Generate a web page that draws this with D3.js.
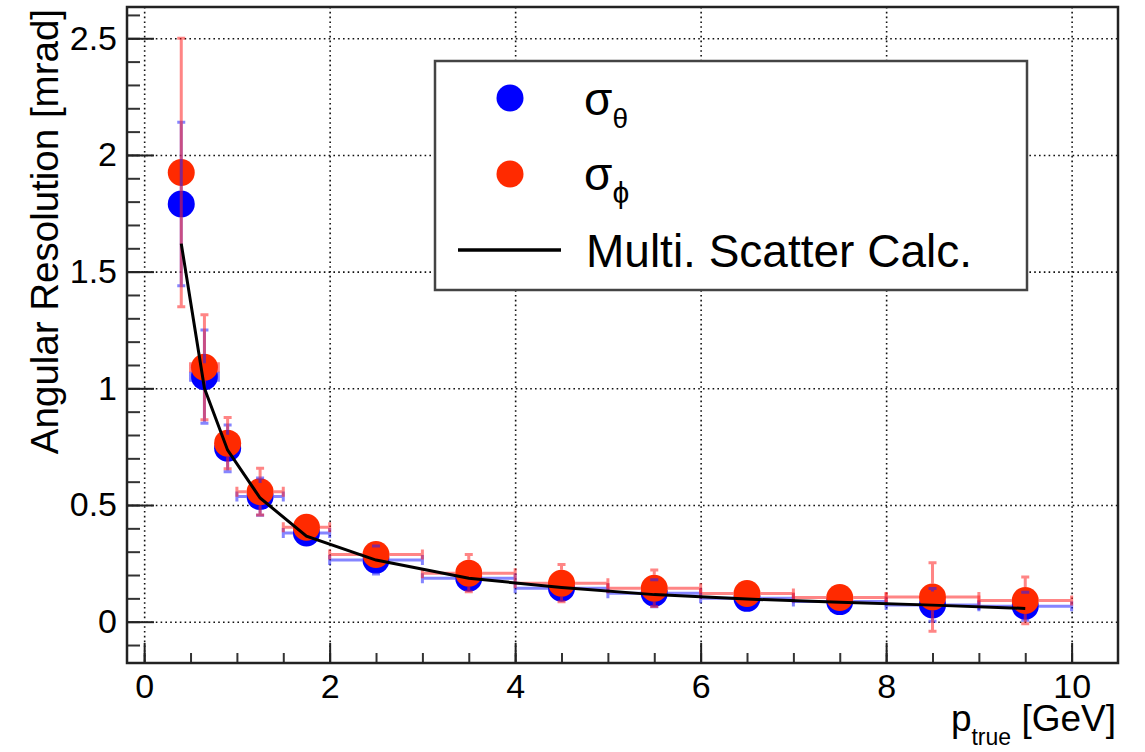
<!DOCTYPE html>
<html>
<head>
<meta charset="utf-8">
<script src="https://cdn.jsdelivr.net/npm/d3@7"></script>
<style>
  html, body { margin: 0; padding: 0; background: #fff; }
  svg { display: block; font-family: "Liberation Sans", Arial, Helvetica, sans-serif; }
</style>
</head>
<body>
<svg id="chart" width="1145" height="752"></svg>
<script>
// ---- data ----
const pCenters     = [0.4, 0.65, 0.9, 1.25, 1.75, 2.5, 3.5, 4.5, 5.5, 6.5, 7.5, 8.5, 9.5];
const binLow       = [0.3, 0.5, 0.8, 1.0, 1.5, 2, 3, 4, 5, 6, 7, 8, 9];
const binHigh      = [0.5, 0.8, 1.0, 1.5, 2.0, 3, 4, 5, 6, 7, 8, 9, 10];
const sigmaTheta    = [1.79, 1.05, 0.743, 0.536, 0.38, 0.264, 0.186, 0.143, 0.122, 0.10, 0.086, 0.072, 0.066];
const sigmaThetaErr = [0.35, 0.20, 0.10, 0.08, 0.04, 0.06, 0.05, 0.05, 0.058, 0.05, 0.04, 0.07, 0.06];
const sigmaPhi      = [1.925, 1.09, 0.765, 0.557, 0.405, 0.288, 0.208, 0.165, 0.143, 0.121, 0.104, 0.106, 0.091];
const sigmaPhiErr   = [0.575, 0.225, 0.11, 0.10, 0.04, 0.05, 0.08, 0.08, 0.078, 0.05, 0.04, 0.147, 0.10];
const msCalc        = [1.62, 1.0, 0.735, 0.53, 0.367, 0.264, 0.186, 0.147, 0.116, 0.097, 0.083, 0.071, 0.057];
const xTickValues = [0, 2, 4, 6, 8, 10];
const xTickLabels = ["0", "2", "4", "6", "8", "10"];
const yTickValues = [0, 0.5, 1, 1.5, 2, 2.5];
const yTickLabels = ["0", "0.5", "1", "1.5", "2", "2.5"];
const xMinorTicks = d3.range(0, 10.01, 0.5);
const yMinorTicks = d3.range(-0.1, 2.61, 0.1).map(v => +v.toFixed(2));
const legendLabels = ["Multi. Scatter Calc."];

// ---- layout ----
const svg = d3.select("#chart");
const L = 127, R = 1118, T = 7, B = 663;
const x = d3.scaleLinear().domain([-0.185, 10.5]).range([L, R]);
const y = d3.scaleLinear().domain([-0.177, 2.634]).range([B, T]);

const blue = "#0000ff", red = "#ff2a00";
const MR = 13.5; // marker radius

// grid
const gridStyle = g => g.selectAll("line").attr("stroke", "#111").attr("stroke-width", 1.6).attr("stroke-dasharray", "1.6 3.2");
svg.append("g").attr("transform", `translate(0,${T})`)
  .call(d3.axisBottom(x).tickValues(xTickValues).tickSize(B - T).tickFormat(""))
  .call(g => g.select(".domain").remove())
  .call(gridStyle);
svg.append("g").attr("transform", `translate(${L},0)`)
  .call(d3.axisRight(y).tickValues(yTickValues).tickSize(R - L).tickFormat(""))
  .call(g => g.select(".domain").remove())
  .call(gridStyle);

// minor ticks
svg.append("g").attr("transform", `translate(0,${B})`)
  .call(d3.axisBottom(x).tickValues(xMinorTicks).tickSizeInner(-10).tickSizeOuter(0).tickFormat(""))
  .call(g => g.select(".domain").remove())
  .call(g => g.selectAll("line").attr("stroke", "#333").attr("stroke-width", 2));
svg.append("g").attr("transform", `translate(${L},0)`)
  .call(d3.axisLeft(y).tickValues(yMinorTicks).tickSizeInner(-13).tickSizeOuter(0).tickFormat(""))
  .call(g => g.select(".domain").remove())
  .call(g => g.selectAll("line").attr("stroke", "#333").attr("stroke-width", 2));

// major ticks + labels
svg.append("g").attr("transform", `translate(0,${B})`)
  .call(d3.axisBottom(x).tickValues(xTickValues).tickSizeInner(-20).tickSizeOuter(0).tickPadding(11)
        .tickFormat((d, i) => xTickLabels[i]))
  .call(g => g.select(".domain").remove())
  .call(g => g.selectAll("line").attr("stroke", "#222").attr("stroke-width", 2))
  .call(g => g.selectAll("text").attr("fill", "#000").style("font-size", "34px").style("font-family", "Liberation Sans, Arial, sans-serif"));
svg.append("g").attr("transform", `translate(${L},0)`)
  .call(d3.axisLeft(y).tickValues(yTickValues).tickSizeInner(-27).tickSizeOuter(0).tickPadding(10)
        .tickFormat((d, i) => yTickLabels[i]))
  .call(g => g.select(".domain").remove())
  .call(g => g.selectAll("line").attr("stroke", "#222").attr("stroke-width", 2))
  .call(g => g.selectAll("text").attr("fill", "#000").style("font-size", "34px").style("font-family", "Liberation Sans, Arial, sans-serif"));

// frame
svg.append("rect").attr("x", L).attr("y", T).attr("width", R - L).attr("height", B - T)
  .attr("fill", "none").attr("stroke", "#222").attr("stroke-width", 2.5);

// markers
function markers(vals, col) {
  svg.append("g").selectAll("circle").data(vals).join("circle")
    .attr("cx", (d, i) => x(pCenters[i])).attr("cy", d => y(d)).attr("r", MR).attr("fill", col);
}
markers(sigmaTheta, blue);
markers(sigmaPhi, red);

// error bars with gaps at own marker
function errorBars(vals, errs, col) {
  const g = svg.append("g").attr("stroke", col).attr("stroke-opacity", 0.55).attr("stroke-width", 3).attr("fill", "none");
  vals.forEach((v, i) => {
    const cx = x(pCenters[i]), cy = y(v);
    const yTop = y(v + errs[i]), yBot = y(v - errs[i]);
    const xl = x(binLow[i]), xh = x(binHigh[i]);
    let d = "";
    if (yTop < cy - MR) d += `M${cx},${cy - MR}V${yTop}M${cx - 4},${yTop}H${cx + 4}`;
    if (yBot > cy + MR) d += `M${cx},${cy + MR}V${yBot}M${cx - 4},${yBot}H${cx + 4}`;
    if (xl < cx - MR) d += `M${cx - MR},${cy}H${xl}M${xl},${cy - 5}V${cy + 5}`;
    if (xh > cx + MR) d += `M${cx + MR},${cy}H${xh}M${xh},${cy - 5}V${cy + 5}`;
    if (d) g.append("path").attr("d", d);
  });
}
errorBars(sigmaTheta, sigmaThetaErr, "#2020ff");
errorBars(sigmaPhi, sigmaPhiErr, "#ff2020");

// multiple scattering calculation curve
svg.append("path").datum(msCalc)
  .attr("d", d3.line().x((d, i) => x(pCenters[i])).y(d => y(d)))
  .attr("fill", "none").attr("stroke", "#000").attr("stroke-width", 3);

// axis titles
svg.append("text")
  .attr("transform", "translate(58,9) rotate(-90)")
  .attr("text-anchor", "end").style("font-size", "38.5px").attr("fill", "#000")
  .text("Angular Resolution [mrad]");
const xt = svg.append("text").attr("x", 1116).attr("y", 731).attr("text-anchor", "end")
  .style("font-size", "37px").attr("fill", "#000");
xt.append("tspan").text("p");
xt.append("tspan").attr("dy", 14).style("font-size", "23px").text("true");
xt.append("tspan").attr("dy", -14).text(" [GeV]");

// legend
const lg = svg.append("g");
lg.append("rect").attr("x", 435).attr("y", 61).attr("width", 592).attr("height", 229)
  .attr("fill", "#fff").attr("stroke", "#444").attr("stroke-width", 2.5);
lg.append("circle").attr("cx", 510).attr("cy", 98).attr("r", MR).attr("fill", blue);
lg.append("circle").attr("cx", 510).attr("cy", 174).attr("r", MR).attr("fill", red);
lg.append("line").attr("x1", 458).attr("x2", 561).attr("y1", 250).attr("y2", 250)
  .attr("stroke", "#000").attr("stroke-width", 3.5);
const t1 = lg.append("text").attr("x", 584).attr("y", 115).style("font-size", "46px").attr("fill", "#000");
t1.append("tspan").text("σ");
t1.append("tspan").attr("dy", 13).style("font-size", "28px").text("θ");
const t2 = lg.append("text").attr("x", 584).attr("y", 190).style("font-size", "46px").attr("fill", "#000");
t2.append("tspan").text("σ");
t2.append("tspan").attr("dy", 13).style("font-size", "30px").text("ϕ");
lg.append("text").attr("x", 586).attr("y", 267).style("font-size", "46px").attr("fill", "#000")
  .text(legendLabels[0]);
</script>
</body>
</html>
